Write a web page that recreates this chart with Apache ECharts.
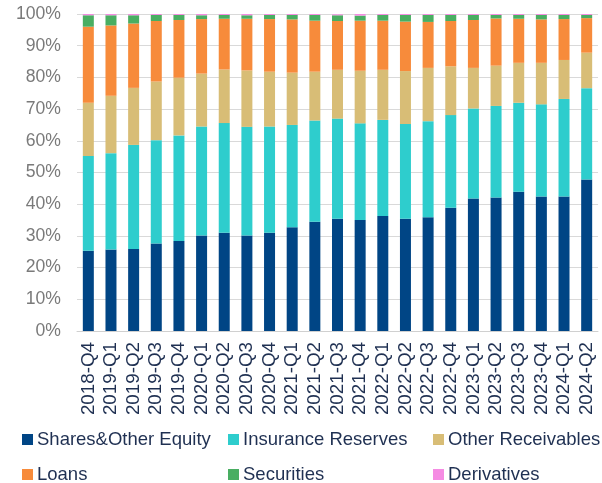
<!DOCTYPE html>
<html>
<head>
<meta charset="utf-8">
<script src="https://cdn.jsdelivr.net/npm/echarts@6/dist/echarts.min.js"></script>
<style>
  html, body { margin: 0; padding: 0; background: #fff; }
  #main { width: 602px; height: 483px; }
</style>
</head>
<body>
<div id="main"></div>
<script>
// categories (quarters)
var quarters = ['2018-Q4', '2019-Q1', '2019-Q2', '2019-Q3', '2019-Q4', '2020-Q1', '2020-Q2', '2020-Q3',
  '2020-Q4', '2021-Q1', '2021-Q2', '2021-Q3', '2021-Q4', '2022-Q1', '2022-Q2', '2022-Q3', '2022-Q4',
  '2023-Q1', '2023-Q2', '2023-Q3', '2023-Q4', '2024-Q1', '2024-Q2'];

// shares in %
var sharesEquity = [25.3, 25.7, 25.9, 27.6, 28.4, 30.1, 31.0, 30.1, 31.0, 32.7, 34.5, 35.4, 35.0, 36.3, 35.4, 35.9, 38.9, 41.8, 42.1, 43.9, 42.4, 42.4, 47.8];
var insuranceReserves = [29.9, 30.4, 32.8, 32.6, 33.3, 34.4, 34.6, 34.3, 33.5, 32.3, 31.9, 31.6, 30.5, 30.3, 29.9, 30.3, 29.2, 28.4, 28.9, 28.1, 29.1, 30.8, 28.8];
var otherReceivables = [16.8, 18.1, 18.0, 18.5, 18.2, 16.7, 16.9, 17.8, 17.3, 16.5, 15.4, 15.4, 16.6, 15.8, 16.7, 16.8, 15.4, 12.8, 12.7, 12.6, 13.1, 12.3, 11.2];
var loans = [24.0, 22.2, 20.3, 19.1, 18.2, 17.2, 16.0, 16.3, 16.6, 16.8, 16.1, 15.4, 15.8, 15.5, 15.6, 14.5, 14.3, 15.1, 14.9, 13.9, 13.7, 12.9, 10.9];
var securities = [3.6, 3.2, 2.6, 1.9, 1.6, 1.2, 1.2, 1.1, 1.3, 1.4, 1.8, 1.8, 1.6, 1.8, 2.1, 2.2, 1.9, 1.6, 1.1, 1.2, 1.4, 1.3, 1.0];
var derivatives = [0.4, 0.4, 0.4, 0.3, 0.3, 0.4, 0.3, 0.4, 0.3, 0.3, 0.3, 0.3, 0.5, 0.3, 0.3, 0.3, 0.3, 0.3, 0.3, 0.3, 0.3, 0.3, 0.3];

var yTicks = [0, 10, 20, 30, 40, 50, 60, 70, 80, 90, 100];

var seriesNames = ['Shares&Other Equity', 'Insurance Reserves', 'Other Receivables', 'Loans', 'Securities', 'Derivatives'];
var seriesData = [sharesEquity, insuranceReserves, otherReceivables, loans, securities, derivatives];
var colors = ['#004585', '#2ECDCD', '#D8BD76', '#F78B3B', '#49AE62', '#F58BE3'];

var font = '"Liberation Sans", Arial, sans-serif';
var navy = '#1F3052';

// legend: 3 columns x 2 rows
var legendPos = [[22, 430], [228, 430], [433, 430], [22, 465], [228, 465], [433, 465]];
var legends = seriesNames.map(function (name, i) {
    return {
        data: [name],
        left: legendPos[i][0],
        top: legendPos[i][1],
        itemWidth: 11,
        itemHeight: 11,
        icon: 'rect',
        padding: 0,
        textStyle: { fontFamily: font, fontSize: 18.5, color: navy, padding: [0, 0, 0, -1] }
    };
});

var myChart = echarts.init(document.getElementById('main'));
myChart.setOption({
    animation: false,
    color: colors,
    legend: legends,
    grid: { left: 77, right: 4, top: 14, bottom: 152, containLabel: false },
    xAxis: {
        type: 'category',
        data: quarters,
        axisLine: { lineStyle: { color: '#D0D0D0' } },
        axisTick: { length: 5, lineStyle: { color: '#D0D0D0' } },
        axisLabel: { rotate: 90, interval: 0, fontFamily: font, fontSize: 18.8, color: navy, margin: 11 }
    },
    yAxis: {
        type: 'value',
        min: yTicks[0],
        max: yTicks[yTicks.length - 1],
        interval: 10,
        axisLine: { show: false },
        axisTick: { show: false },
        splitLine: { lineStyle: { color: '#D9D9D9' } },
        axisLabel: { formatter: '{value}%', fontFamily: font, fontSize: 17.6, color: '#7A7A7A', margin: 16 }
    },
    series: seriesNames.map(function (name, i) {
        return {
            name: name,
            type: 'bar',
            stack: 'total',
            barWidth: 11,
            data: seriesData[i]
        };
    })
});
</script>
</body>
</html>
